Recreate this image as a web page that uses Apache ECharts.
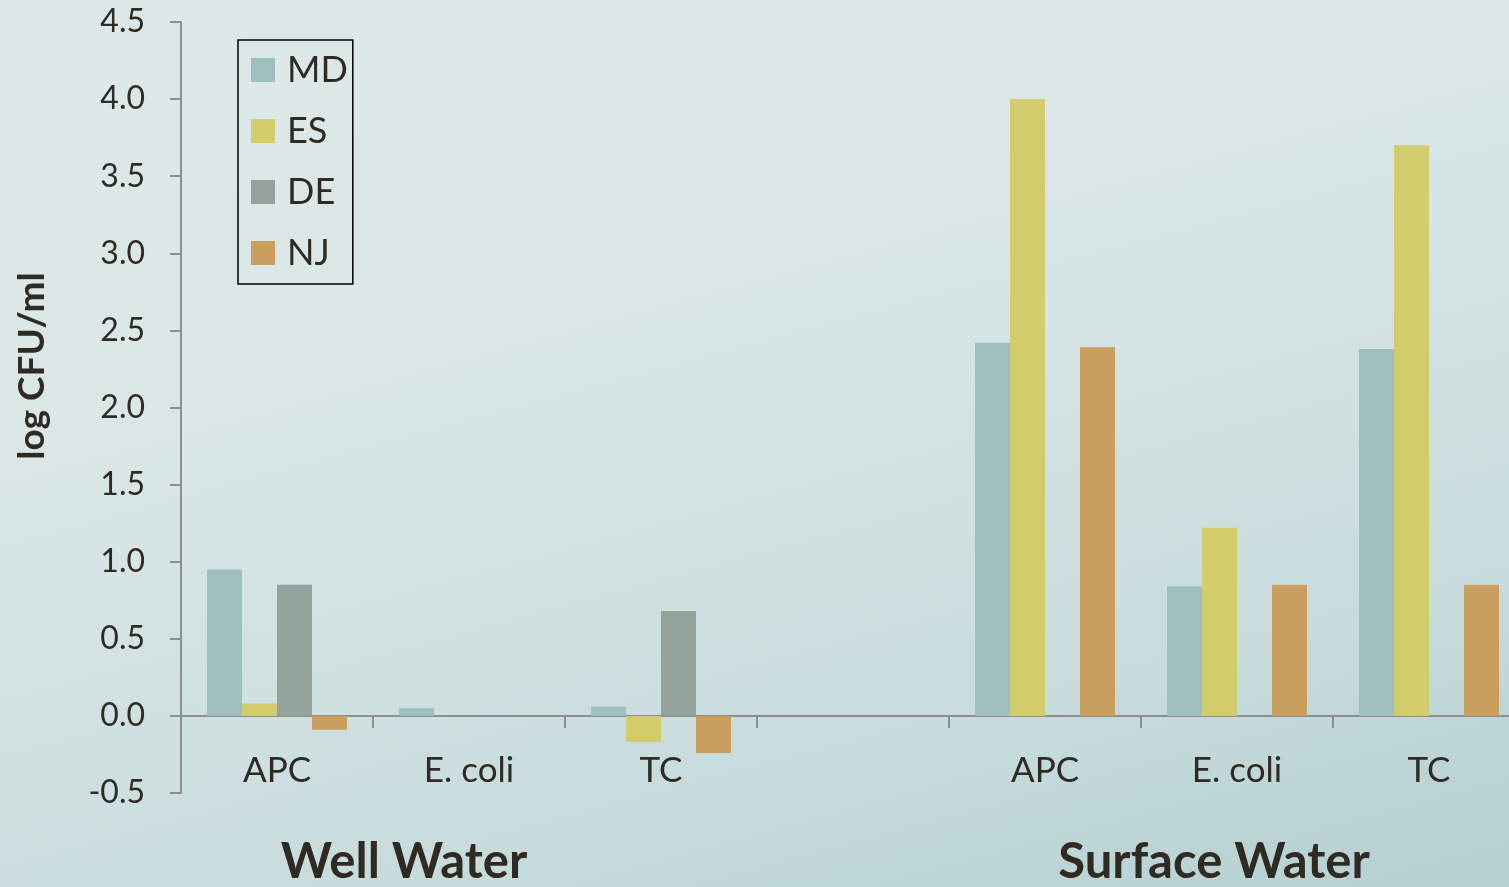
<!DOCTYPE html>
<html>
<head>
<meta charset="utf-8">
<script src="https://cdn.jsdelivr.net/npm/echarts@6/dist/echarts.min.js"></script>
<style>
  html, body { margin: 0; padding: 0; overflow: hidden; width: 1509px; height: 887px; }
  #wrap {
    width: 1509px; height: 887px; overflow: hidden;
    background: linear-gradient(165deg, #dde9e9 0%, #dbe7e7 35%, #c8dcdd 75%, #b5cfd1 100%);
  }
  #chart { width: 1540px; height: 887px; }
</style>
</head>
<body>
<div id="wrap"><div id="chart"></div></div>
<script>
const categories = ['APC', 'E. coli', 'TC', '', 'APC', 'E. coli', 'TC'];
const seriesNames = ['MD', 'ES', 'DE', 'NJ'];
const mdValues = [0.95, 0.05, 0.06, null, 2.42, 0.84, 2.38];
const esValues = [0.08, null, -0.17, null, 4.00, 1.22, 3.70];
const deValues = [0.85, null, 0.68, null, null, null, null];
const njValues = [-0.09, null, -0.24, null, 2.39, 0.85, 0.85];
const groupLabels = ['Well Water', 'Surface Water'];
const yTitle = 'log CFU/ml';

const colors = ['#9dbfbf', '#d3cc6d', '#93a39b', '#c99e5e'];
const textColor = '#2f2b22';
const axisColor = '#8e8e8e';
const font = 'Lato, "Open Sans", sans-serif';

const chart = echarts.init(document.getElementById('chart'));
const allValues = [mdValues, esValues, deValues, njValues];

chart.setOption({
  backgroundColor: 'transparent',
  animation: false,
  textStyle: { fontFamily: font, color: textColor },
  legend: {
    orient: 'vertical',
    left: 238,
    top: 40,
    padding: [12, 5, 13, 13],
    itemGap: 25,
    itemWidth: 24,
    itemHeight: 24,
    borderColor: '#000',
    borderWidth: 1.5,
    icon: 'rect',
    textStyle: { fontSize: 36, lineHeight: 36, color: textColor, fontFamily: font, padding: [0, 0, 0, 7] },
    data: seriesNames
  },
  grid: { left: 181, top: 22, width: 1344, height: 771 },
  xAxis: {
    type: 'category',
    data: categories,
    axisLine: { onZero: true, lineStyle: { color: axisColor, width: 2 } },
    axisTick: { show: true, interval: 0, length: 12, lineStyle: { color: axisColor, width: 2 } },
    axisLabel: { interval: 0, margin: -40, fontSize: 35, color: textColor, fontFamily: font }
  },
  yAxis: {
    type: 'value',
    min: -0.5, max: 4.5, interval: 0.5,
    splitLine: { show: false },
    axisLine: { show: true, lineStyle: { color: axisColor, width: 2 } },
    axisTick: { show: true, length: 11, lineStyle: { color: axisColor, width: 2 } },
    axisLabel: { margin: 36, fontSize: 32, color: textColor, fontFamily: font,
      formatter: v => v.toFixed(1) }
  },
  graphic: [
    { type: 'text', x: 32, y: 366, rotation: Math.PI / 2,
      style: { text: yTitle, fontSize: 37, fontWeight: 'bold', fill: textColor, fontFamily: font,
        align: 'center', verticalAlign: 'middle' } },
    { type: 'text', x: 404, y: 862,
      style: { text: groupLabels[0], fontSize: 49, fontWeight: 'bold', fill: textColor, fontFamily: font,
        align: 'center', verticalAlign: 'middle' } },
    { type: 'text', x: 1214, y: 862,
      style: { text: groupLabels[1], fontSize: 49, fontWeight: 'bold', fill: textColor, fontFamily: font,
        align: 'center', verticalAlign: 'middle' } }
  ],
  series: seriesNames.map((name, i) => ({
    name,
    type: 'bar',
    data: allValues[i],
    barWidth: 35,
    barGap: '0%',
    itemStyle: { color: colors[i] }
  }))
});
</script>
</body>
</html>
